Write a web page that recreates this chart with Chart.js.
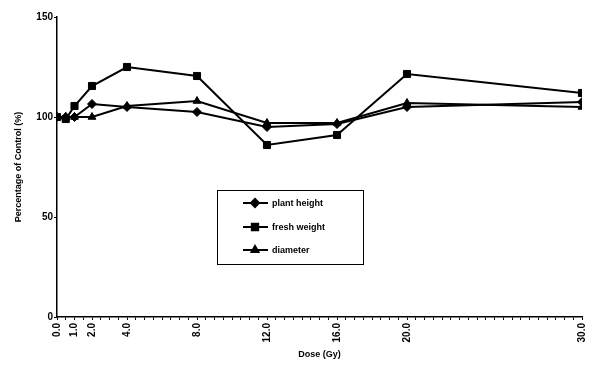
<!DOCTYPE html>
<html><head><meta charset="utf-8">
<script src="https://cdn.jsdelivr.net/npm/chart.js@4"></script>
<style>html,body{margin:0;padding:0;background:#fff}#w{width:603px;height:370px}</style>
</head><body><div id="w"><canvas id="c"></canvas></div>
<script>
const doses = [0, 0.5, 1.0, 2.0, 4.0, 8.0, 12.0, 16.0, 20.0, 30.0];
const plantHeight = [100, 100, 100, 106.5, 105, 102.5, 95, 96.5, 105, 107.5];
const freshWeight = [100, 99, 105.5, 115.5, 125, 120.5, 86, 91, 121.5, 112];
const diameter = [100, 100, 100, 100, 105.5, 108, 97, 97, 107, 105];
const xTickLabels = [0, 1, 2, 4, 8, 12, 16, 20, 30];
const seriesNames = ['plant height', 'fresh weight', 'diameter'];
const markers = ['rectRot', 'rect', 'triangle'];

const FONT = 'Liberation Sans';
const pts = arr => doses.map((d, i) => ({x: d, y: arr[i]}));
const mk = (label, arr, style, r) => ({
  label, data: pts(arr), borderColor: '#000', backgroundColor: '#000',
  borderWidth: 2, pointStyle: style, pointRadius: r, pointBorderWidth: 1,
  tension: 0, fill: false
});

const legendPlugin = {
  id: 'boxLegend',
  afterDraw(chart) {
    const ctx = chart.ctx;
    ctx.save();
    ctx.strokeStyle = '#000'; ctx.lineWidth = 1;
    ctx.strokeRect(217.5, 190.5, 146, 74);
    const ys = [203, 227, 250];
    chart.data.datasets.forEach((ds, i) => {
      const y = ys[i];
      ctx.strokeStyle = '#000'; ctx.lineWidth = 2;
      ctx.beginPath(); ctx.moveTo(243, y); ctx.lineTo(268, y); ctx.stroke();
      ctx.fillStyle = '#000';
      Chart.helpers.drawPoint(ctx, {pointStyle: ds.pointStyle, radius: ds.pointRadius - 0.5, borderWidth: 1}, 255, y);
      ctx.fill();
      ctx.font = 'bold 9px "' + FONT + '"';
      ctx.textBaseline = 'middle'; ctx.textAlign = 'left';
      ctx.fillText(ds.label, 272, y + 0.5);
    });
    ctx.restore();
  }
};

new Chart(document.getElementById('c'), {
  type: 'line',
  data: { datasets: [
    mk(seriesNames[0], plantHeight, markers[0], 4.5),
    mk(seriesNames[1], freshWeight, markers[1], 5),
    mk(seriesNames[2], diameter, markers[2], 4.5)
  ]},
  options: {
    responsive: true, maintainAspectRatio: false, animation: false,
    layout: { padding: { left: 13, top: 17, right: 21, bottom: 0 } },
    plugins: { legend: { display: false }, tooltip: { enabled: false } },
    scales: {
      x: {
        type: 'linear', min: 0, max: 30,
        afterFit(s) { s.height = 53; },
        border: { color: '#000', width: 1.5 },
        grid: { display: true, drawOnChartArea: false, drawTicks: true, tickLength: 3, color: '#000', lineWidth: 1 },
        ticks: {
          stepSize: 0.5, autoSkip: false, minRotation: 90, maxRotation: 90, padding: 3,
          color: '#000', font: { family: FONT, size: 10, weight: 'bold' },
          callback: v => xTickLabels.includes(v) ? v.toFixed(1) : ''
        },
        title: { display: true, text: 'Dose (Gy)', color: '#000', font: { family: FONT, size: 9, weight: 'bold' }, padding: { top: 0, bottom: 10 } }
      },
      y: {
        min: 0, max: 150,
        afterFit(s) { s.width = 44; },
        border: { color: '#000', width: 1.5 },
        grid: { display: true, drawOnChartArea: false, tickLength: 3, color: '#000' },
        ticks: { stepSize: 50, padding: 1, color: '#000', font: { family: FONT, size: 10, weight: 'bold' } },
        title: { display: true, text: 'Percentage of Control (%)', color: '#000', font: { family: FONT, size: 9, weight: 'bold' }, padding: { top: 0, bottom: 0 } }
      }
    }
  },
  plugins: [legendPlugin]
});
</script>
</body></html>
